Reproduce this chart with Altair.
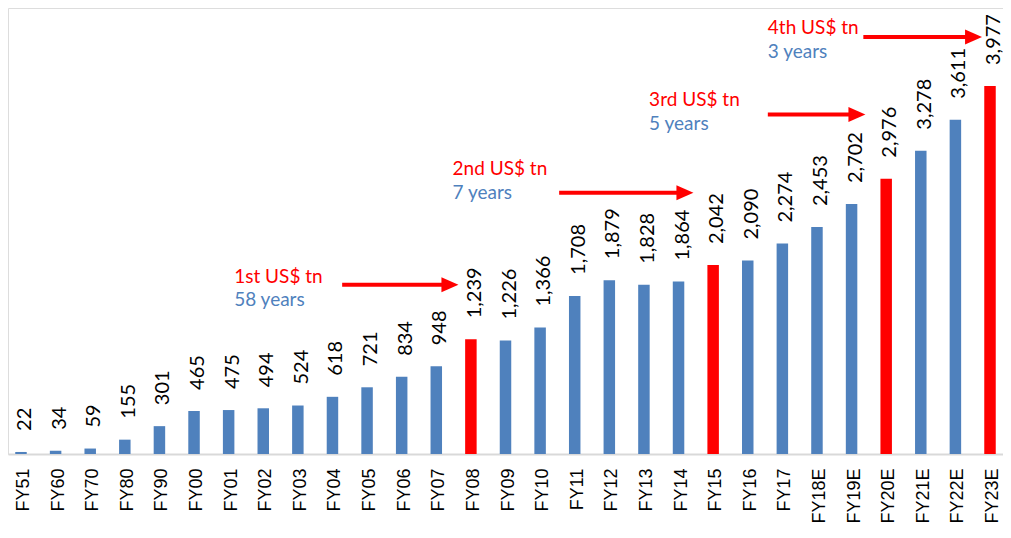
import altair as alt
import pandas as pd

categories = ["FY51", "FY60", "FY70", "FY80", "FY90", "FY00", "FY01", "FY02", "FY03", "FY04",
              "FY05", "FY06", "FY07", "FY08", "FY09", "FY10", "FY11", "FY12", "FY13", "FY14",
              "FY15", "FY16", "FY17", "FY18E", "FY19E", "FY20E", "FY21E", "FY22E", "FY23E"]
values = [22, 34, 59, 155, 301, 465, 475, 494, 524, 618,
          721, 834, 948, 1239, 1226, 1366, 1708, 1879, 1828, 1864,
          2042, 2090, 2274, 2453, 2702, 2976, 3278, 3611, 3977]
milestones = ["FY08", "FY15", "FY20E", "FY23E"]

# annotations (x in category-index units, y in value units)
ann_titles = ["1st US$ tn", "2nd US$ tn", "3rd US$ tn", "4th US$ tn"]
ann_years = ["58 years", "7 years", "5 years", "3 years"]
ann_text_x = [6.16, 12.47, 18.15, 21.58]
ann_title_y = [1914, 3085, 3827, 4601]
ann_years_y = [1663, 2823, 3566, 4340]
arrow_from = [9.28, 15.55, 21.58, 24.34]
arrow_to = [12.64, 19.43, 24.40, 27.77]
arrow_y = [1830, 2823, 3670, 4507]

BLUE = "#4f81bd"
RED = "#ff0000"

df = pd.DataFrame({
    "cat": categories,
    "value": values,
    "kind": ["milestone" if c in milestones else "normal" for c in categories],
})
ann = pd.DataFrame({
    "title": ann_titles, "years": ann_years, "tx": ann_text_x,
    "ty": ann_title_y, "yy": ann_years_y,
    "a0": arrow_from, "a1": arrow_to,
    "a1s": [t - 0.3 for t in arrow_to], "ay": arrow_y,
})

W, H = 995, 446
ymax = 4820

xband = alt.X("cat:N", sort=categories, title=None,
              scale=alt.Scale(paddingInner=0.668, paddingOuter=0.2095, align=0.5, round=False),
              axis=alt.Axis(labelAngle=270, labelFont="Liberation Sans", labelFontSize=18,
                            labelColor="#000000", labelPadding=14, ticks=False, tickSize=0,
                            domainColor="#d9d9d9", domainWidth=2, labelOffset=3,
                            labelOverlap=False, grid=False))
yscale = alt.Scale(domain=[0, ymax], nice=False, zero=True)
yq = alt.Y("value:Q", scale=yscale, axis=None)

bars = alt.Chart(df).mark_bar().encode(
    x=xband, y=yq,
    color=alt.Color("kind:N", scale=alt.Scale(domain=["normal", "milestone"], range=[BLUE, RED]),
                    legend=None),
)
labels = alt.Chart(df).mark_text(angle=270, align="left", baseline="middle", font="Lato",
                                 fontSize=20, color="#000000", yOffset=-21, dy=4).encode(
    x=xband, y=yq, text=alt.Text("value:Q", format=",")
)
base = alt.layer(bars, labels)

xlin = dict(scale=alt.Scale(domain=[0, 28], range=[13, 982], nice=False, zero=False), axis=None)

titles = alt.Chart(ann).mark_text(align="left", baseline="middle", font="Lato", fontSize=19,
                                  color=RED).encode(
    x=alt.X("tx:Q", **xlin), y=alt.Y("ty:Q", scale=yscale, axis=None), text="title:N")
years = alt.Chart(ann).mark_text(align="left", baseline="middle", font="Lato", fontSize=19,
                                 color=BLUE).encode(
    x=alt.X("tx:Q", **xlin), y=alt.Y("yy:Q", scale=yscale, axis=None), text="years:N")
shafts = alt.Chart(ann).mark_rule(color=RED, strokeWidth=4).encode(
    x=alt.X("a0:Q", **xlin), x2="a1s:Q", y=alt.Y("ay:Q", scale=yscale, axis=None))
heads = alt.Chart(ann).mark_point(shape="M-1.7,-0.75L0,0L-1.7,0.75Z", size=400, filled=True,
                                  color=RED, opacity=1, strokeWidth=0).encode(
    x=alt.X("a1:Q", **xlin), y=alt.Y("ay:Q", scale=yscale, axis=None))
annots = alt.layer(titles, years, shafts, heads)

chart = alt.layer(base, annots).resolve_scale(
    x="independent"
).properties(
    width=W, height=H,
    autosize=alt.AutoSizeParams(type="none"),
    padding={"left": 0, "top": 0, "right": 0, "bottom": 74},
).configure_view(stroke=None).configure(background="#ffffff")

chart.save("out.html", embed_options={"renderer": "svg", "actions": False})
